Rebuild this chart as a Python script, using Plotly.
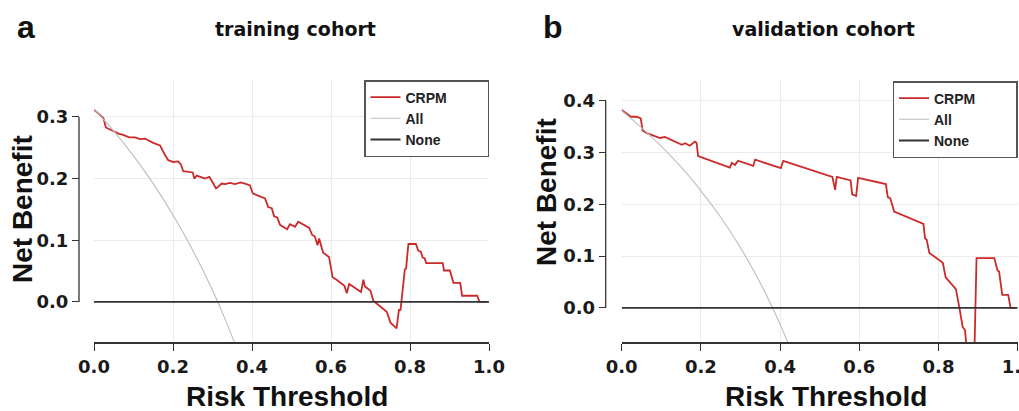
import plotly.graph_objects as go

# ---------------- data ----------------
# training cohort (panel a)
train_thr = [0.000, 0.024, 0.030, 0.045, 0.062, 0.074, 0.089, 0.104, 0.116, 0.129,
             0.150, 0.167, 0.174, 0.180, 0.188, 0.201, 0.213, 0.220, 0.226, 0.239,
             0.250, 0.254, 0.260, 0.281, 0.292, 0.302, 0.309, 0.315, 0.323, 0.332,
             0.344, 0.357, 0.371, 0.386, 0.395, 0.402, 0.433, 0.441, 0.450, 0.456,
             0.464, 0.471, 0.489, 0.496, 0.509, 0.517, 0.545, 0.552, 0.559, 0.566,
             0.570, 0.580, 0.595, 0.604, 0.614, 0.634, 0.640, 0.646, 0.676, 0.682,
             0.686, 0.700, 0.707, 0.741, 0.751, 0.766, 0.772, 0.776, 0.787, 0.790,
             0.796, 0.815, 0.821, 0.827, 0.832, 0.837, 0.841, 0.883, 0.886, 0.901,
             0.910, 0.927, 0.932, 0.970, 0.976, 0.995]
train_crpm = [0.312, 0.298, 0.283, 0.278, 0.273, 0.271, 0.267, 0.267, 0.264, 0.265,
              0.258, 0.254, 0.244, 0.238, 0.230, 0.227, 0.228, 0.223, 0.212, 0.211,
              0.210, 0.200, 0.205, 0.200, 0.203, 0.192, 0.184, 0.187, 0.192, 0.191,
              0.193, 0.191, 0.194, 0.191, 0.189, 0.176, 0.168, 0.154, 0.152, 0.139,
              0.137, 0.125, 0.118, 0.126, 0.122, 0.130, 0.120, 0.109, 0.106, 0.092,
              0.103, 0.080, 0.073, 0.040, 0.036, 0.026, 0.014, 0.029, 0.016, 0.036,
              0.025, 0.018, 0.002, -0.016, -0.034, -0.043, -0.013, -0.013, 0.053, 0.054,
              0.094, 0.094, 0.083, 0.082, 0.072, 0.071, 0.063, 0.063, 0.051, 0.051,
              0.031, 0.031, 0.010, 0.010, 0.000, 0.000]
train_all_thr = [0.00, 0.05, 0.10, 0.15, 0.20, 0.25, 0.30, 0.33, 0.36]
train_all = [0.313, 0.277, 0.237, 0.192, 0.141, 0.084, 0.019, -0.025, -0.073]

# validation cohort (panel b)
valid_thr = [0.000, 0.023, 0.038, 0.048, 0.053, 0.065, 0.097, 0.109, 0.152, 0.160,
             0.172, 0.185, 0.189, 0.193, 0.273, 0.278, 0.286, 0.294, 0.332, 0.337,
             0.402, 0.408, 0.532, 0.539, 0.543, 0.578, 0.582, 0.592, 0.597, 0.667,
             0.672, 0.678, 0.688, 0.762, 0.766, 0.770, 0.777, 0.811, 0.818, 0.844,
             0.853, 0.861, 0.867, 0.875, 0.890, 0.896, 0.941, 0.949, 0.953, 0.961,
             0.976, 0.982, 0.995]
valid_crpm = [0.382, 0.369, 0.369, 0.366, 0.342, 0.337, 0.328, 0.330, 0.315, 0.318,
              0.313, 0.321, 0.319, 0.293, 0.271, 0.280, 0.276, 0.284, 0.274, 0.286,
              0.270, 0.284, 0.253, 0.228, 0.253, 0.246, 0.219, 0.216, 0.251, 0.239,
              0.214, 0.212, 0.186, 0.162, 0.134, 0.132, 0.106, 0.087, 0.059, 0.036,
              -0.001, -0.037, -0.043, -0.110, -0.110, 0.096, 0.096, 0.072, 0.070, 0.025,
              0.025, 0.000, 0.000]
valid_all_thr = [0.00, 0.05, 0.10, 0.15, 0.20, 0.25, 0.30, 0.35, 0.40, 0.45]
valid_all = [0.381, 0.348, 0.312, 0.272, 0.226, 0.175, 0.116, 0.048, -0.032, -0.125]

none_thr = [0.0, 1.0]
none_val = [0.0, 0.0]

x_ticks = [0.0, 0.2, 0.4, 0.6, 0.8, 1.0]
x_ticklabels = ["0.0", "0.2", "0.4", "0.6", "0.8", "1.0"]
panel_titles = ["training cohort", "validation cohort"]
panel_letters = ["a", "b"]
series_names = ["CRPM", "All", "None"]

# ---------------- styling ----------------
W, H = 1019, 411
RED = "#cc2a2a"
GRAY = "#bdbdbd"
DARK = "#333333"
GRID = "#ebebeb"
TICKFONT = dict(family="DejaVu Sans", size=18, color="#1a1a1a", weight="bold")
TITLEFONT = dict(family="Liberation Sans, Arial", size=28, color="#111111", weight="bold")
LEG_PAD = "\u00a0" * 9   # widens the legend box like the reference


def px_x(p):
    return p / W


def px_y(p):
    return 1 - p / H


ydom = [px_y(342), px_y(80)]
xdom_a = [px_x(94), px_x(489)]
xdom_b = [px_x(621.7), px_x(1017.7)]

fig = go.Figure()

panels = [
    ("x", "y", "legend", train_thr, train_crpm, train_all_thr, train_all),
    ("x2", "y2", "legend2", valid_thr, valid_crpm, valid_all_thr, valid_all),
]
for xa, ya, lg, thr, crpm, athr, aval in panels:
    fig.add_trace(go.Scatter(x=thr, y=crpm, mode="lines", name=series_names[0] + LEG_PAD,
                             line=dict(color=RED, width=1.8), xaxis=xa, yaxis=ya, legend=lg))
    fig.add_trace(go.Scatter(x=athr, y=aval, mode="lines", name=series_names[1],
                             line=dict(color=GRAY, width=1.1, shape="spline"),
                             xaxis=xa, yaxis=ya, legend=lg))
    fig.add_trace(go.Scatter(x=none_thr, y=none_val, mode="lines", name=series_names[2],
                             line=dict(color=DARK, width=1.8), xaxis=xa, yaxis=ya, legend=lg))

xcommon = dict(range=[0, 1], tickvals=x_ticks, ticktext=x_ticklabels, showgrid=True,
               gridcolor=GRID, gridwidth=1, zeroline=False, showline=True, linecolor=DARK,
               linewidth=1.8, ticks="outside", ticklen=7, tickwidth=1.2, tickcolor=DARK,
               tickfont=TICKFONT, automargin=False, ticklabeloverflow="allow")
ycommon = dict(dtick=0.1, tick0=0, tickformat=".1f", showgrid=True, gridcolor=GRID,
               gridwidth=1, zeroline=False, showline=False, ticks="outside", ticklen=7,
               tickwidth=1.2, tickcolor=DARK, tickfont=TICKFONT, anchor="free",
               automargin=False, ticklabeloverflow="allow")

fig.update_layout(
    template="none",
    width=W, height=H, autosize=False,
    margin=dict(l=0, r=0, t=0, b=0, pad=0),
    paper_bgcolor="white", plot_bgcolor="white",
    xaxis=dict(domain=xdom_a, anchor="y", **xcommon),
    xaxis2=dict(domain=xdom_b, anchor="y2", **xcommon),
    yaxis=dict(domain=ydom, range=[-0.065, 0.36], position=px_x(79), **ycommon),
    yaxis2=dict(domain=ydom, range=[-0.066, 0.44], position=px_x(605.7), **ycommon),
)

legcommon = dict(xanchor="right", yanchor="top", bgcolor="white", bordercolor="#555555",
                 borderwidth=1.5, font=dict(family="Liberation Sans, Arial", size=14,
                                            color="#222222", weight="bold"),
                 itemwidth=30, tracegroupgap=0)
fig.update_layout(
    legend=dict(x=px_x(489), y=px_y(80), **legcommon),
    legend2=dict(x=px_x(1017.5), y=px_y(81), **legcommon),
)

# y-axis lines spanning only the tick range (base-R style)
for ya, xpos, ytop in [("y", 79, 0.3), ("y2", 605.7, 0.4)]:
    fig.add_shape(type="line", xref="paper", yref=ya, x0=px_x(xpos), x1=px_x(xpos),
                  y0=0, y1=ytop, line=dict(color=DARK, width=1.3))

# panel letters, titles, axis titles
ann = []
for letter, lx in zip(panel_letters, [15, 541]):
    ann.append(dict(text=letter, x=px_x(lx), y=px_y(27), xref="paper", yref="paper",
                    xanchor="left", yanchor="middle", showarrow=False,
                    font=dict(family="Liberation Sans, Arial", size=32, color="#111", weight="bold")))
for title, dom in zip(panel_titles, [xdom_a, xdom_b]):
    ann.append(dict(text=title, x=(dom[0] + dom[1]) / 2 + 0.004, y=px_y(29), xref="paper",
                    yref="paper", xanchor="center", yanchor="middle", showarrow=False,
                    font=dict(family="DejaVu Sans", size=19, color="#111", weight="bold")))
for cx in [286.5, 825.7]:
    ann.append(dict(text="Risk Threshold", x=px_x(cx), y=px_y(396), xref="paper", yref="paper",
                    xanchor="center", yanchor="middle", showarrow=False, font=TITLEFONT))
for cx, cy in [(22.5, 209.5), (546, 192)]:
    ann.append(dict(text="Net Benefit", x=px_x(cx), y=px_y(cy), xref="paper", yref="paper",
                    xanchor="center", yanchor="middle", textangle=-90, showarrow=False,
                    font=TITLEFONT))
fig.update_layout(annotations=ann)

# remove the browser's default 8px page margin so the figure sits at the window origin
fig.write_html("out.html", config={"displayModeBar": False},
               post_script="document.body.style.margin='0';document.body.style.overflow='hidden';")
